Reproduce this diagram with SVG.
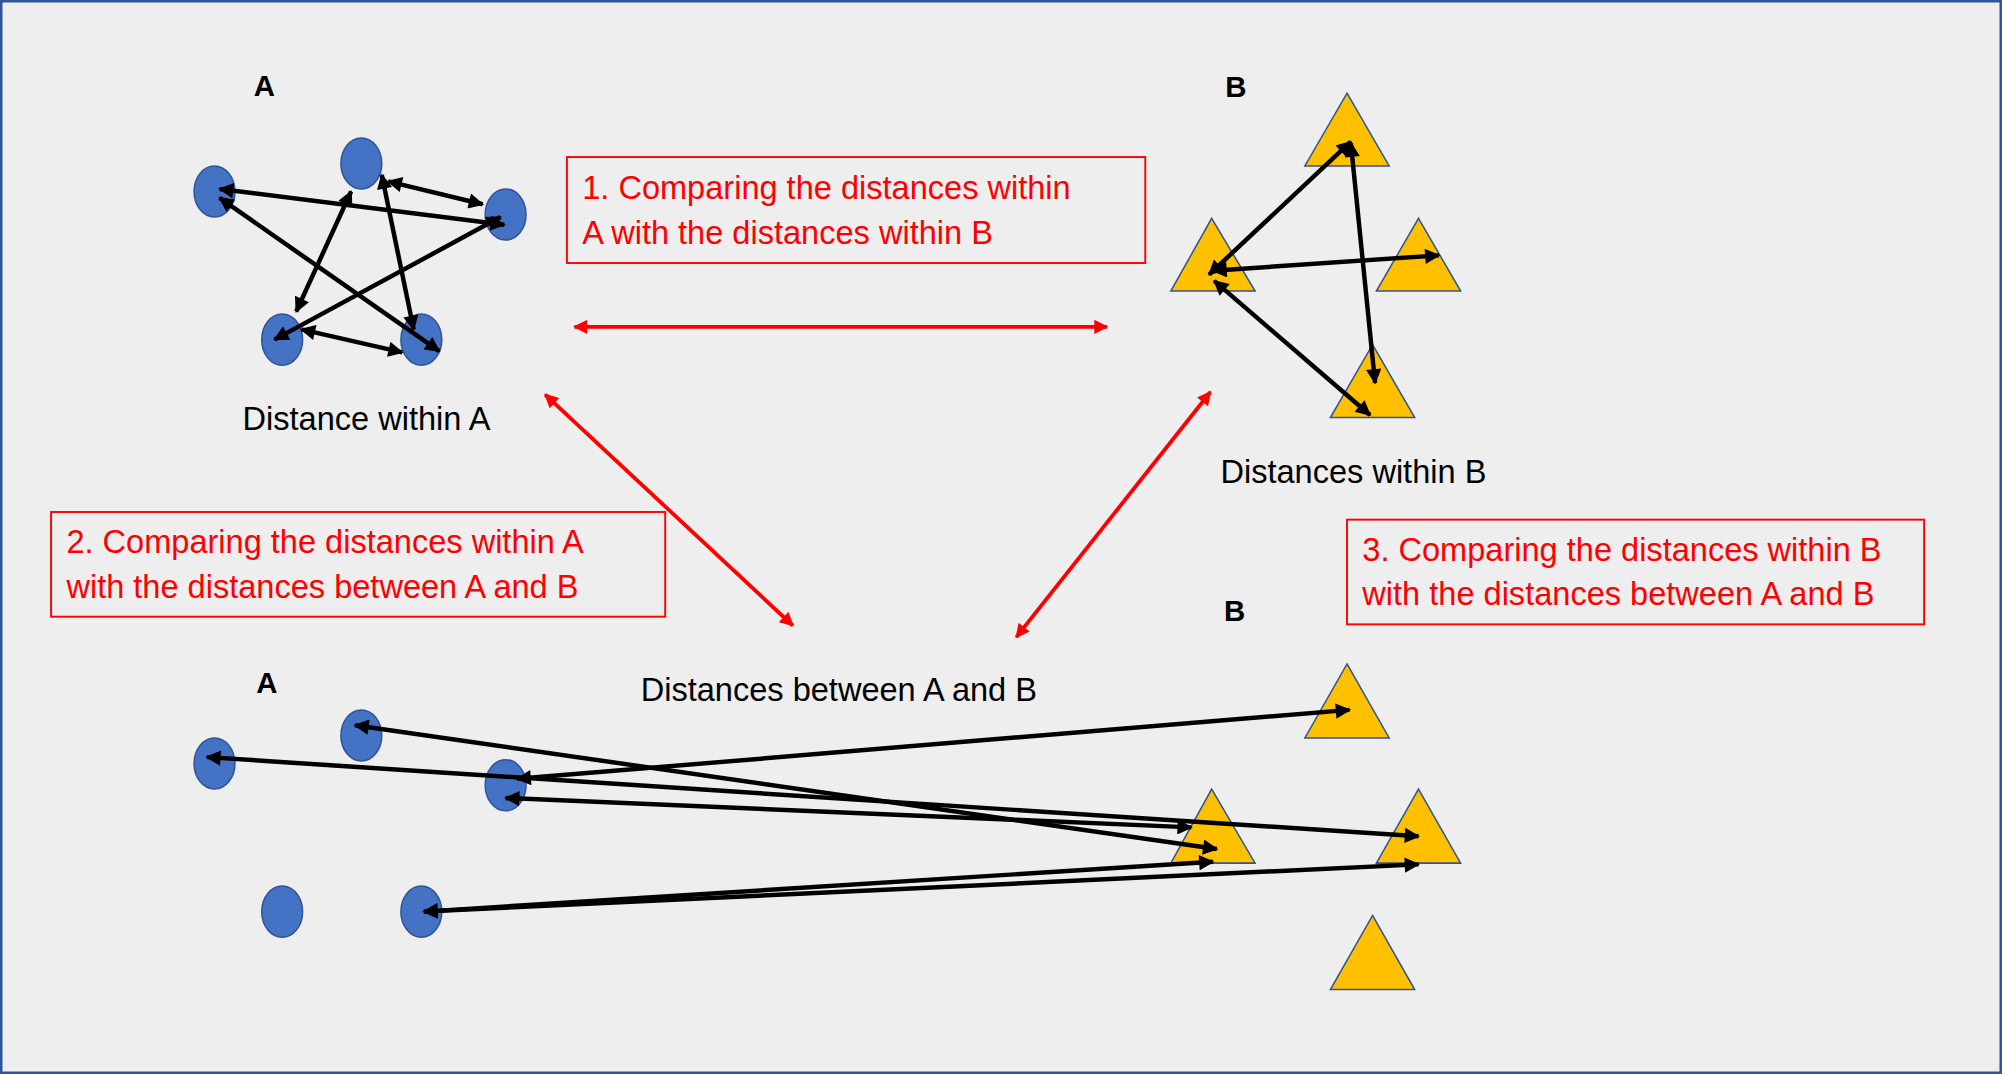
<svg xmlns="http://www.w3.org/2000/svg" width="2002" height="1074" viewBox="0 0 2002 1074">
<style>
.c{fill:#4472C4;stroke:#2F5597;stroke-width:1.2}
.t{fill:#FFC000;stroke:#2F5597;stroke-width:1.2}
.k{stroke:#000;stroke-width:3.5;fill:none;marker-start:url(#ak);marker-end:url(#ak)}
.r{stroke:#FF0000;stroke-width:3;fill:none;marker-start:url(#ar);marker-end:url(#ar)}
.box{fill:none;stroke:#FF0000;stroke-width:1.5}
text{font-family:"Liberation Sans",Arial,sans-serif}
.lb{font-size:25.5px;fill:#000}
.rt{font-size:25.5px;fill:#FF0000}
.h{font-size:23px;font-weight:bold;fill:#000}
</style>
<defs>
<marker id="ak" viewBox="0 0 10 10" refX="9" refY="5" markerWidth="14" markerHeight="12" markerUnits="userSpaceOnUse" orient="auto-start-reverse"><path d="M0 0L10 5L0 10z" fill="#000"/></marker>
<marker id="ar" viewBox="0 0 10 10" refX="9" refY="5" markerWidth="12" markerHeight="11" markerUnits="userSpaceOnUse" orient="auto-start-reverse"><path d="M0 0L10 5L0 10z" fill="#FF0000"/></marker>
</defs>
<rect x="1" y="1" width="2000" height="1072" fill="#EEEEEE" stroke="#2F5597" stroke-width="3"/>
<g transform="scale(1.27679)">
<g id="topA">
<text class="h" x="207" y="75" text-anchor="middle">A</text>
<ellipse class="c" cx="168" cy="150" rx="16" ry="20"/>
<ellipse class="c" cx="283" cy="128" rx="16" ry="20"/>
<ellipse class="c" cx="396" cy="168" rx="16" ry="20"/>
<ellipse class="c" cx="221" cy="266" rx="16" ry="20"/>
<ellipse class="c" cx="330" cy="266" rx="16" ry="20"/>
<text class="lb" x="287" y="337" text-anchor="middle">Distance within A</text>
</g>
<g id="topB">
<text class="h" x="968" y="76" text-anchor="middle">B</text>
<polygon class="t" points="1055,73 1088,130 1022,130"/>
<polygon class="t" points="949,171 983,228 917,228"/>
<polygon class="t" points="1111,171 1144,228 1078,228"/>
<polygon class="t" points="1075,270 1108,327 1042,327"/>
<text class="lb" x="1060" y="378" text-anchor="middle">Distances within B</text>
</g>
<g id="box1">
<rect class="box" x="444" y="123" width="453" height="83"/>
<text class="rt" x="456" y="156">1. Comparing the distances within</text>
<text class="rt" x="456" y="191">A with the distances within B</text>
</g>
<g id="box2">
<rect class="box" x="40" y="401" width="481" height="82"/>
<text class="rt" x="52" y="433">2. Comparing the distances within A</text>
<text class="rt" x="52" y="468">with the distances between A and B</text>
</g>
<g id="box3">
<rect class="box" x="1055" y="407" width="452" height="82"/>
<text class="rt" x="1067" y="439">3. Comparing the distances within B</text>
<text class="rt" x="1067" y="474">with the distances between A and B</text>
</g>
<g id="between">
<text class="lb" x="657" y="549" text-anchor="middle">Distances between A and B</text>
</g>
<g id="botA">
<text class="h" x="209" y="543" text-anchor="middle">A</text>
<ellipse class="c" cx="168" cy="598" rx="16" ry="20"/>
<ellipse class="c" cx="283" cy="576" rx="16" ry="20"/>
<ellipse class="c" cx="396" cy="615" rx="16" ry="20"/>
<ellipse class="c" cx="221" cy="714" rx="16" ry="20"/>
<ellipse class="c" cx="330" cy="714" rx="16" ry="20"/>
</g>
<g id="botB">
<text class="h" x="967" y="486" text-anchor="middle">B</text>
<polygon class="t" points="1055,520 1088,578 1022,578"/>
<polygon class="t" points="949,618 983,676 917,676"/>
<polygon class="t" points="1111,618 1144,676 1078,676"/>
<polygon class="t" points="1075,717 1108,775 1042,775"/>
</g>
<g id="connectors">
<line class="r" x1="450" y1="256" x2="867" y2="256"/>
<line class="r" x1="427" y1="309" x2="621" y2="490"/>
<line class="r" x1="948" y1="307" x2="796" y2="499"/>
<line class="k" x1="172" y1="148" x2="395" y2="176"/>
<line class="k" x1="172" y1="155" x2="344" y2="275"/>
<line class="k" x1="275" y1="150" x2="232" y2="244"/>
<line class="k" x1="299" y1="137" x2="324" y2="258"/>
<line class="k" x1="304" y1="142" x2="378" y2="160"/>
<line class="k" x1="215" y1="266" x2="392" y2="170"/>
<line class="k" x1="236" y1="258" x2="315" y2="276"/>
<line class="k" x1="1058" y1="111" x2="947" y2="215"/>
<line class="k" x1="950" y1="212" x2="1127" y2="200"/>
<line class="k" x1="951" y1="220" x2="1073" y2="325"/>
<line class="k" x1="1058" y1="112" x2="1077" y2="300"/>
<line class="k" x1="405" y1="610" x2="1057" y2="556"/>
<line class="k" x1="162" y1="593" x2="1111" y2="655"/>
<line class="k" x1="278" y1="568" x2="953" y2="665"/>
<line class="k" x1="396" y1="625" x2="933" y2="648"/>
<line class="k" x1="332" y1="714" x2="950" y2="675"/>
<line class="k" x1="332" y1="714" x2="1111" y2="677"/>
</g>
</g>
</svg>
